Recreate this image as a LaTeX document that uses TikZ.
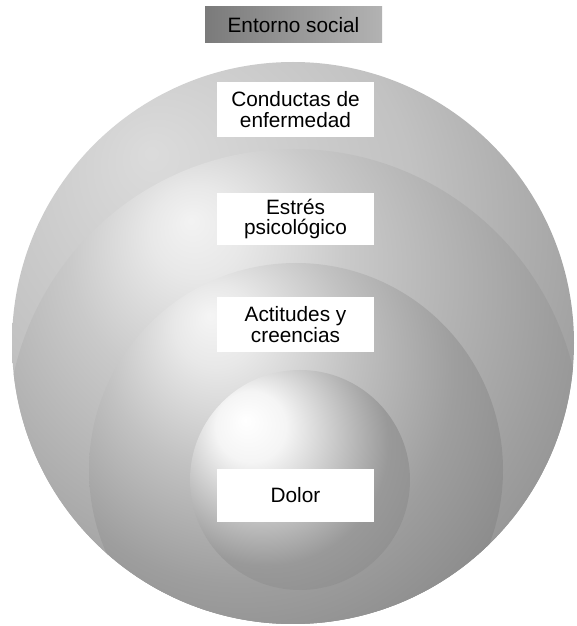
\documentclass[tikz,border=0pt]{standalone}
\usepackage{fontspec}
\setmainfont{Liberation Sans}
\pgfdeclareradialshading{layerA}{\pgfpoint{-12.7bp}{17bp}}{color(0bp)=(black!14); color(20bp)=(black!24); color(35bp)=(black!38); color(48bp)=(black!47); color(75bp)=(black!47)}
\pgfdeclareradialshading{layerB}{\pgfpoint{-9bp}{18.8bp}}{color(0bp)=(black!5); color(4bp)=(black!9); color(12bp)=(black!21); color(28bp)=(black!38); color(36bp)=(black!46); color(75bp)=(black!48)}
\pgfdeclareradialshading{layerC}{\pgfpoint{-10.4bp}{18.7bp}}{color(0bp)=(black!4); color(5bp)=(black!9); color(15bp)=(black!24); color(26bp)=(black!38); color(36bp)=(black!46); color(75bp)=(black!48)}
\pgfdeclareradialshading{layerD}{\pgfpoint{-12.5bp}{13.6bp}}{color(0bp)=(white); color(8bp)=(black!4); color(18bp)=(black!22); color(28bp)=(black!40); color(40bp)=(black!45); color(75bp)=(black!46)}
\tikzset{
  label font/.style={font=\fontsize{15.6pt}{15.3pt}\selectfont},
  label box/.style={label font, fill=white, draw=none, align=center,
    minimum width=117.75pt, inner sep=0pt, text=black},
}
\begin{document}
\begin{tikzpicture}[x=0.75pt,y=0.75pt]
\useasboundingbox (0,0) rectangle (576,626);
% outer sphere (Y = 626 - y)
\shade[shading=layerA] (293,283) circle (281);
\begin{scope}
  \clip (293,283) circle (281);
  \shade[shading=layerB] (294,190) circle (287);
  \shade[shading=layerC] (296,156) circle (207);
  \shade[shading=layerD] (300,146) circle (110);
\end{scope}
% title box
\node[label font, minimum width=132.75pt, minimum height=27pt, inner sep=0pt,
      left color=black!52, right color=black!30] (entorno) at (293.5,601) {Entorno social};
% labels
\node[label box, minimum height=41.25pt] (conductas) at (295.5,516.5) {Conductas de\\enfermedad};
\node[label box, minimum height=39pt] (estres) at (295.5,407) {Estrés\\psicológico};
\node[label box, minimum height=41.25pt] (actitudes) at (295.5,301.5) {Actitudes y\\creencias};
\node[label box, minimum height=39.75pt] (dolor) at (295.5,130.5) {Dolor};
\end{tikzpicture}
\end{document}
